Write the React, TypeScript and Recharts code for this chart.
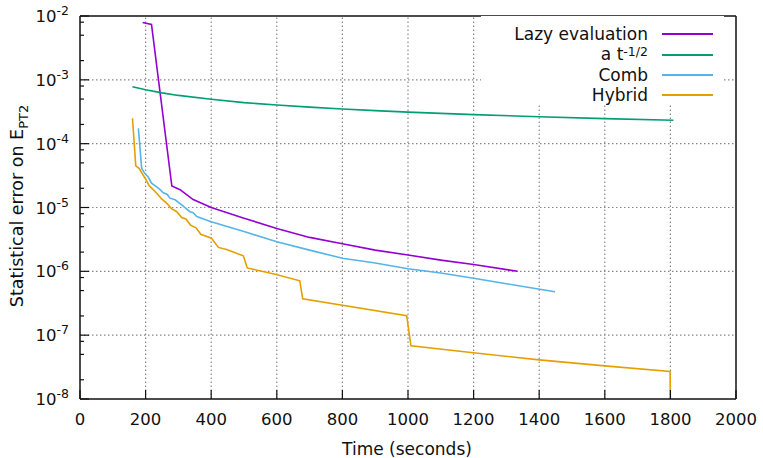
import React from "react";
import { LineChart, Line, XAxis, YAxis, ReferenceLine, Label } from "recharts";

// ---- data (time in seconds, statistical error on E_PT2) ----
const lazyTimes = [191, 218, 280, 305, 345, 400, 500, 600, 700, 800, 900, 1000, 1100, 1200, 1334];
const lazyErrors = [7.9e-3, 7.4e-3, 2.17e-5, 1.9e-5, 1.33e-5, 1.0e-5, 6.8e-6, 4.7e-6, 3.4e-6, 2.7e-6, 2.15e-6, 1.8e-6, 1.5e-6, 1.28e-6, 1.0e-6];

const refTimes = [160, 200, 250, 300, 400, 500, 600, 700, 800, 900, 1000, 1200, 1400, 1600, 1809];
const refErrors = [7.8e-4, 7.0e-4, 6.25e-4, 5.7e-4, 4.95e-4, 4.4e-4, 4.03e-4, 3.73e-4, 3.49e-4, 3.29e-4, 3.12e-4, 2.85e-4, 2.64e-4, 2.47e-4, 2.33e-4];

const combTimes = [178, 188, 198, 208, 218, 234, 244, 254, 266, 274, 290, 310, 335, 345, 356, 400, 500, 600, 700, 800, 900, 1000, 1100, 1200, 1300, 1448];
const combErrors = [1.74e-4, 4.1e-5, 3.4e-5, 3.0e-5, 2.4e-5, 2.1e-5, 1.9e-5, 1.7e-5, 1.6e-5, 1.4e-5, 1.32e-5, 1.1e-5, 8.6e-6, 8.3e-6, 7.2e-6, 6.0e-6, 4.2e-6, 2.9e-6, 2.15e-6, 1.6e-6, 1.35e-6, 1.1e-6, 9.4e-7, 7.8e-7, 6.4e-7, 4.8e-7];

const hybridTimes = [160, 170, 180, 198, 211, 234, 249, 264, 280, 295, 310, 323, 337, 354, 368, 401, 422, 447, 498, 510, 598, 670, 679, 996, 1009, 1199, 1400, 1600, 1799, 1800];
const hybridErrors = [2.5e-4, 4.5e-5, 4.1e-5, 2.9e-5, 2.2e-5, 1.67e-5, 1.36e-5, 1.17e-5, 9.5e-6, 8.6e-6, 6.95e-6, 6.6e-6, 5.3e-6, 4.8e-6, 3.8e-6, 3.3e-6, 2.37e-6, 2.2e-6, 1.75e-6, 1.13e-6, 8.9e-7, 7.1e-7, 3.7e-7, 2.02e-7, 6.8e-8, 5.3e-8, 4.1e-8, 3.3e-8, 2.7e-8, 1.0e-8];

const xTicks = [0, 200, 400, 600, 800, 1000, 1200, 1400, 1600, 1800, 2000];
const yMajor = [1e-8, 1e-7, 1e-6, 1e-5, 1e-4, 1e-3, 1e-2];
const yMinorMantissas = [2, 5, 8];

const zip = (ts: number[], vs: number[]) => ts.map((t, i) => ({ t, v: vs[i] }));
const lazyData = zip(lazyTimes, lazyErrors);
const refData = zip(refTimes, refErrors);
const combData = zip(combTimes, combErrors);
const hybridData = zip(hybridTimes, hybridErrors);

const yTicks: number[] = [];
yMajor.forEach((m, i) => {
  yTicks.push(m);
  if (i < yMajor.length - 1) yMinorMantissas.forEach((k) => yTicks.push(k * m));
});

const series = [
  { name: "Lazy evaluation", color: "#9400d3", data: lazyData },
  { name: "a t", sup: "-1/2", color: "#009e73", data: refData },
  { name: "Comb", color: "#56b4e9", data: combData },
  { name: "Hybrid", color: "#e69f00", data: hybridData },
];

const FONT = "'DejaVu Sans', sans-serif";
const INK = "#111";
const GRID = "#888";

const isMajor = (v: number) => {
  const l = Math.log10(v);
  return Math.abs(l - Math.round(l)) < 1e-6;
};

const LeftTick = (props: any) => {
  const { x, y, payload } = props;
  const v = payload.value as number;
  const major = isMajor(v);
  return (
    <g>
      <line x1={x} x2={x + (major ? 9 : 4)} y1={y} y2={y} stroke={INK} strokeWidth={1.2} />
      {major && (
        <text x={x - 11} y={y + 6} textAnchor="end" fontFamily={FONT} fontSize={16.5} fill={INK}>
          10
          <tspan dy={-7} fontSize={12.5}>{Math.round(Math.log10(v))}</tspan>
        </text>
      )}
    </g>
  );
};

const RightTick = (props: any) => {
  const { x, y, payload } = props;
  const major = isMajor(payload.value);
  return <line x1={x} x2={x - (major ? 9 : 4)} y1={y} y2={y} stroke={INK} strokeWidth={1.2} />;
};

const BottomTick = (props: any) => {
  const { x, y, payload } = props;
  return (
    <g>
      <line x1={x} x2={x} y1={y} y2={y - 9} stroke={INK} strokeWidth={1.2} />
      <text x={x} y={y + 26} textAnchor="middle" fontFamily={FONT} fontSize={16.5} fill={INK}>
        {payload.value}
      </text>
    </g>
  );
};

const TopTick = (props: any) => {
  const { x, y } = props;
  return <line x1={x} x2={x} y1={y} y2={y + 9} stroke={INK} strokeWidth={1.2} />;
};

const XTitle = (props: any) => {
  const vb = props.viewBox;
  return (
    <text x={vb.x + vb.width / 2 - 1} y={455} textAnchor="middle" fontFamily={FONT} fontSize={17} fill={INK}>
      Time (seconds)
    </text>
  );
};

const YTitle = () => (
  <text
    x={23}
    y={206}
    transform="rotate(-90, 23, 206)"
    textAnchor="middle"
    fontFamily={FONT}
    fontSize={17.5}
    fill={INK}
  >
    Statistical error on E
    <tspan dy={5} fontSize={13}>PT2</tspan>
  </text>
);

const KeyBox = () => (
  <div
    style={{
      position: "absolute",
      left: 481,
      top: 16,
      width: 243,
      height: 88,
      background: "#fff",
      fontFamily: FONT,
      fontSize: 17,
      color: INK,
      paddingTop: 8,
      boxSizing: "border-box",
    }}
  >
    {series.map((s) => (
      <div key={s.name} style={{ display: "flex", alignItems: "center", height: 20.4 }}>
        <div style={{ width: 167, textAlign: "right", whiteSpace: "nowrap", lineHeight: "20px" }}>
          {s.name}
          {s.sup && <span style={{ fontSize: 12.5, position: "relative", top: -4 }}>{s.sup}</span>}
        </div>
        <div style={{ marginLeft: 14, width: 51, height: 0, borderTop: `2px solid ${s.color}` }} />
      </div>
    ))}
  </div>
);

export default function App() {
  return (
    <div style={{ position: "absolute", left: 0, top: 0, width: 763, height: 458 }}>
      <LineChart width={763} height={458} margin={{ top: 0, right: 0, bottom: 0, left: 0 }}>
        <XAxis
          xAxisId="b"
          dataKey="t"
          type="number"
          domain={[0, 2000]}
          ticks={xTicks}
          interval={0}
          height={59}
          tickSize={0}
          tickMargin={0}
          tickLine={false}
          axisLine={{ stroke: INK, strokeWidth: 1.5 }}
          tick={<BottomTick />}
        >
          <Label content={<XTitle />} />
        </XAxis>
        <XAxis
          xAxisId="t"
          orientation="top"
          dataKey="t"
          type="number"
          domain={[0, 2000]}
          ticks={xTicks}
          interval={0}
          height={16}
          tickSize={0}
          tickMargin={0}
          tickLine={false}
          axisLine={{ stroke: INK, strokeWidth: 1.5 }}
          tick={<TopTick />}
        />
        <YAxis
          yAxisId="l"
          type="number"
          scale="log"
          domain={[1e-8, 1e-2]}
          ticks={yTicks}
          interval={0}
          width={80}
          tickSize={0}
          tickMargin={0}
          tickLine={false}
          axisLine={{ stroke: INK, strokeWidth: 1.5 }}
          tick={<LeftTick />}
        >
          <Label content={<YTitle />} />
        </YAxis>
        <YAxis
          yAxisId="r"
          orientation="right"
          type="number"
          scale="log"
          domain={[1e-8, 1e-2]}
          ticks={yTicks}
          interval={0}
          width={27}
          tickSize={0}
          tickMargin={0}
          tickLine={false}
          axisLine={{ stroke: INK, strokeWidth: 1.5 }}
          tick={<RightTick />}
        />

        {yMajor.slice(1, -1).map((v) => (
          <ReferenceLine key={"gy" + v} xAxisId="b" yAxisId="l" y={v} stroke={GRID} strokeDasharray="1.5 2.5" strokeWidth={1.2} />
        ))}
        {xTicks.slice(1, -1).map((v) => (
          <ReferenceLine key={"gx" + v} xAxisId="b" yAxisId="l" x={v} stroke={GRID} strokeDasharray="1.5 2.5" strokeWidth={1.2} />
        ))}

        {series.map((s) => (
          <Line
            key={s.name}
            xAxisId="b"
            yAxisId="l"
            data={s.data}
            dataKey="v"
            name={s.name}
            type="linear"
            stroke={s.color}
            strokeWidth={1.6}
            dot={false}
            activeDot={false}
            isAnimationActive={false}
          />
        ))}
      </LineChart>
      <KeyBox />
    </div>
  );
}
